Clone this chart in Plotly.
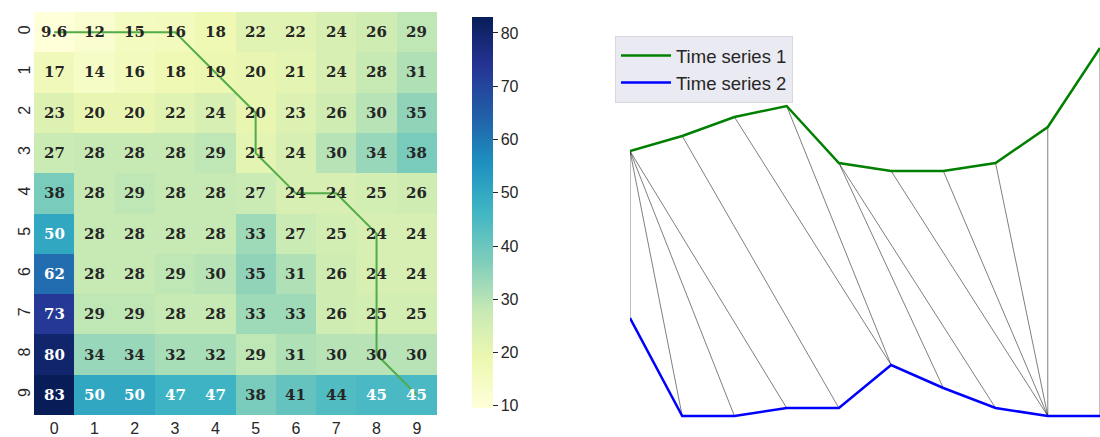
import plotly.graph_objects as go
import plotly.colors as pc

# ---------------- data ----------------
row_labels = [str(i) for i in range(10)]
col_labels = [str(i) for i in range(10)]

cost = [
    [9.6, 12, 15, 16, 18, 22, 22, 24, 26, 29],
    [17, 14, 16, 18, 19, 20, 21, 24, 28, 31],
    [23, 20, 20, 22, 24, 20, 23, 26, 30, 35],
    [27, 28, 28, 28, 29, 21, 24, 30, 34, 38],
    [38, 28, 29, 28, 28, 27, 24, 24, 25, 26],
    [50, 28, 28, 28, 28, 33, 27, 25, 24, 24],
    [62, 28, 28, 29, 30, 35, 31, 26, 24, 24],
    [73, 29, 29, 28, 28, 33, 33, 26, 25, 25],
    [80, 34, 34, 32, 32, 29, 31, 30, 30, 30],
    [83, 50, 50, 47, 47, 38, 41, 44, 45, 45],
]

# warping path as (row, col)
path_rows = [0, 0, 0, 0, 1, 2, 3, 4, 4, 5, 6, 7, 8, 9]
path_cols = [0, 1, 2, 3, 4, 5, 5, 6, 7, 8, 8, 8, 8, 9]

# time series (display units)
ts1 = [26.5, 28.0, 29.9, 31.0, 25.3, 24.5, 24.5, 25.3, 28.9, 36.8]
ts2 = [9.8, 0.0, 0.0, 0.8, 0.8, 5.1, 2.8, 0.8, 0.0, 0.0]
t_idx = list(range(10))

W, H = 1100, 437

fig = go.Figure()

# ---------------- heatmap ----------------
scale = pc.sequential.YlGnBu  # light -> dark
fig.add_trace(go.Heatmap(
    z=cost, x=t_idx, y=t_idx,
    colorscale=scale, zmin=9.6, zmax=83,
    xgap=0, ygap=0,
    hoverinfo="skip",
    colorbar=dict(
        x=462 / W, xanchor="left", xref="paper",
        y=1 - 212.5 / H, yanchor="middle",
        len=(418 - 7) / H, lenmode="fraction",
        thickness=21, outlinewidth=0,
        tickvals=[10, 20, 30, 40, 50, 60, 70, 80],
        ticks="outside", ticklen=5, tickcolor="#262626",
        tickfont=dict(family="Liberation Sans, Arial", size=16, color="#262626"),
    ),
    xaxis="x", yaxis="y",
))

# path on heatmap
fig.add_trace(go.Scatter(
    x=path_cols, y=path_rows, mode="lines",
    line=dict(color="rgb(80,172,72)", width=2),
    showlegend=False, hoverinfo="skip", xaxis="x", yaxis="y",
))

# annotations
annots = []
for r in range(10):
    for c in range(10):
        v = cost[r][c]
        txt = f"{v:.2g}" if v < 10 else f"{v:.0f}"
        color = "white" if v >= 44.5 else "#262626"
        annots.append(dict(
            x=c, y=r, xref="x", yref="y", text=f"<b>{txt}</b>",
            showarrow=False,
            font=dict(family="DejaVu Serif", size=15, color=color),
        ))

# ---------------- right: alignment ----------------
lx, ly = [], []
for i, j in zip(path_rows, path_cols):
    lx += [t_idx[i], t_idx[j], None]
    ly += [ts1[i], ts2[j], None]
fig.add_trace(go.Scatter(
    x=lx, y=ly, mode="lines",
    line=dict(color="rgba(0,0,0,0.85)", width=0.6),
    showlegend=False, hoverinfo="skip", xaxis="x2", yaxis="y2",
))
fig.add_trace(go.Scatter(
    x=t_idx, y=ts1, mode="lines", name="Time series 1",
    line=dict(color="green", width=2.5), xaxis="x2", yaxis="y2",
))
fig.add_trace(go.Scatter(
    x=t_idx, y=ts2, mode="lines", name="Time series 2",
    line=dict(color="blue", width=2.5), xaxis="x2", yaxis="y2",
))

tickfont = dict(family="Liberation Sans, Arial", size=16, color="#262626")
fig.update_layout(
    width=W, height=H,
    margin=dict(l=0, r=0, t=0, b=0),
    paper_bgcolor="white", plot_bgcolor="white",
    annotations=annots,
    xaxis=dict(
        domain=[34 / W, 437 / W], range=[-0.5, 9.5],
        tickvals=t_idx, ticktext=col_labels, ticks="", showgrid=False,
        zeroline=False, showline=False, tickfont=tickfont,
        ticklabelstandoff=2,
    ),
    yaxis=dict(
        domain=[1 - 415 / H, 1 - 12 / H], range=[9.5, -0.5],
        tickvals=t_idx, ticktext=row_labels, ticks="", showgrid=False,
        zeroline=False, showline=False, tickfont=tickfont, tickangle=-90,
    ),
    xaxis2=dict(
        domain=[630 / W, 1.0], range=[0, 9], visible=False,
    ),
    yaxis2=dict(
        domain=[0, 1], range=[-2.1, 41.6], visible=False, anchor="x2",
    ),
    legend=dict(
        x=615 / W, y=1 - 36 / H, xanchor="left", yanchor="top",
        bgcolor="rgb(234,234,242)", bordercolor="rgb(215,215,222)", borderwidth=1,
        font=dict(family="Liberation Sans, Arial", size=18.5, color="#262626"),
        tracegroupgap=0, itemwidth=50,
    ),
)

fig.write_html(
    "out.html",
    config={"displayModeBar": False},
    post_script="document.body.style.margin='0px';document.body.style.overflow='hidden';",
)
